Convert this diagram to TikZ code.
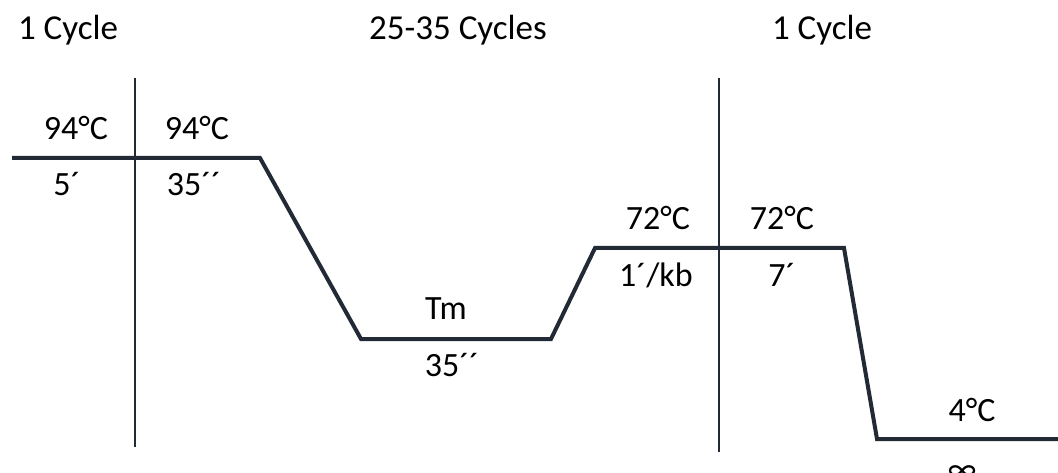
\documentclass[tikz,border=0pt]{standalone}
\usepackage{fontspec}
\setmainfont{Carlito}
\usepackage{tikz}
\usetikzlibrary{positioning,calc}
\tikzset{
  profile/.style={line width=4pt, draw={rgb,255:red,34;green,42;blue,53}, line join=miter},
  divider/.style={line width=1.4pt, draw={rgb,255:red,34;green,42;blue,53}},
  steplabel/.style={font=\fontsize{34}{40}\selectfont, inner sep=0pt, anchor=center},
  cyclelabel/.style={font=\fontsize{35}{41}\selectfont, inner sep=0pt, anchor=center}
}

\begin{document}
\begin{tikzpicture}[x=1pt, y=-1pt]
      \useasboundingbox (0,0) rectangle (1058,473);
      % temperature profile corners
      \coordinate (p0) at (12,158);
      \coordinate (p1) at (260,158);
      \coordinate (p2) at (361,339);
      \coordinate (p3) at (551,339);
      \coordinate (p4) at (595,248);
      \coordinate (p5) at (844,248);
      \coordinate (p6) at (877,439);
      \coordinate (p7) at (1058,439);
      \draw[profile] (p0) -- (p1) -- (p2) -- (p3) -- (p4) -- (p5) -- (p6) -- (p7);
      % cycle dividers
      \coordinate (d1top) at (135,78);
      \coordinate (d1bot) at (135,447);
      \coordinate (d2top) at (719,78);
      \coordinate (d2bot) at (719,452);
      \draw[divider] (d1top) -- (d1bot);
      \draw[divider] (d2top) -- (d2bot);
      % cycle headings
      \node[cyclelabel] (cycA) at (68,30) {1 Cycle};
      \node[cyclelabel] (cycB) at (458,30) {25-35 Cycles};
      \node[cyclelabel] (cycC) at (822,30) {1 Cycle};
      % step labels
      \node[steplabel] (tempA) at (76,128) {94°C};
      \node[steplabel] (timeA) at (67,184) {5´};
      \node[steplabel] (tempB) at (197,128) {94°C};
      \node[steplabel] (timeB) at (194,184) {35´´};
      \node[steplabel] (tempC) at (446,309) {Tm};
      \node[steplabel] (timeC) at (452,365) {35´´};
      \node[steplabel] (tempD) at (658,218) {72°C};
      \node[steplabel] (timeD) at (656,275) {1´/kb};
      \node[steplabel] (tempE) at (782,218) {72°C};
      \node[steplabel] (timeE) at (782,275) {7´};
      \node[steplabel] (tempF) at (972,410) {4°C};
      \node[steplabel] (timeF) at (962,473) {∞};
    \end{tikzpicture}
\end{document}
